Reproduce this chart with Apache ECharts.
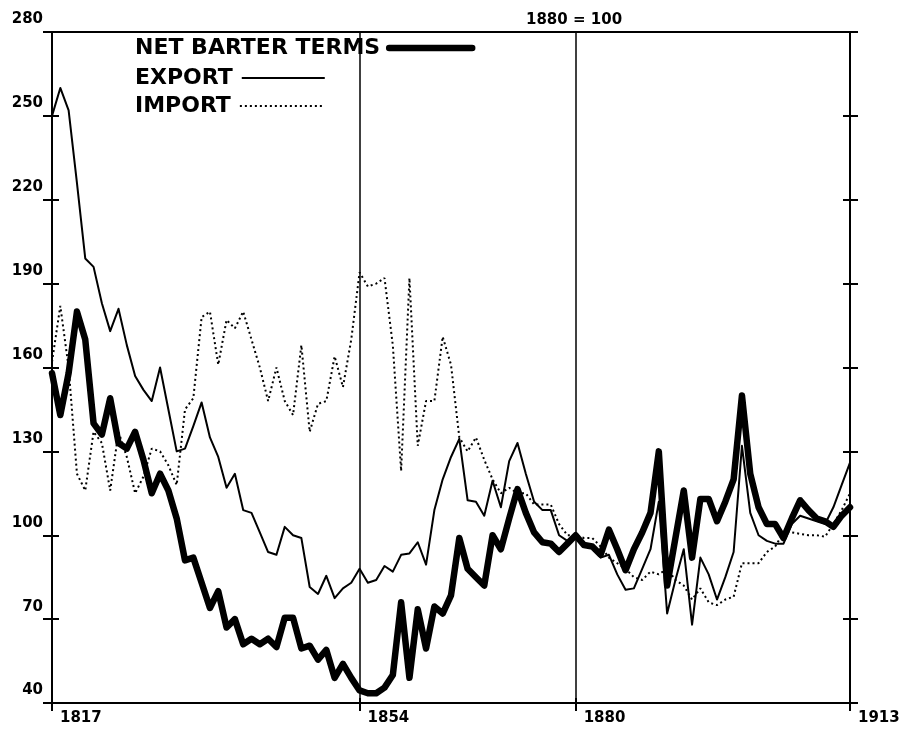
<!DOCTYPE html>
<html>
<head>
<meta charset="utf-8">
<title>Terms of trade, 1817–1913 (1880 = 100)</title>
<script src="https://cdn.jsdelivr.net/npm/echarts@6/dist/echarts.min.js"></script>
<style>
  html, body { margin: 0; padding: 0; background: #fff; }
  #chart { width: 903px; height: 733px; }
</style>
</head>
<body>
<div id="chart"></div>
<script>
// Annual observations, 1817–1913
const years = [
  1817, 1818, 1819, 1820, 1821, 1822, 1823, 1824, 1825, 1826,
  1827, 1828, 1829, 1830, 1831, 1832, 1833, 1834, 1835, 1836,
  1837, 1838, 1839, 1840, 1841, 1842, 1843, 1844, 1845, 1846,
  1847, 1848, 1849, 1850, 1851, 1852, 1853, 1854, 1855, 1856,
  1857, 1858, 1859, 1860, 1861, 1862, 1863, 1864, 1865, 1866,
  1867, 1868, 1869, 1870, 1871, 1872, 1873, 1874, 1875, 1876,
  1877, 1878, 1879, 1880, 1881, 1882, 1883, 1884, 1885, 1886,
  1887, 1888, 1889, 1890, 1891, 1892, 1893, 1894, 1895, 1896,
  1897, 1898, 1899, 1900, 1901, 1902, 1903, 1904, 1905, 1906,
  1907, 1908, 1909, 1910, 1911, 1912, 1913
];

const netBarterTerms = [
  158, 143, 158, 180, 170, 140, 136, 149, 133, 131,
  137, 127, 115, 122, 116, 106, 91, 92, 83, 74,
  80, 67, 70, 61, 63, 61, 63, 60, 70.5, 70.5,
  59.5, 60.5, 55.5, 59, 49, 54, 49, 44.5, 43.5, 43.5,
  45.5, 50, 76, 49, 73.5, 59.5, 74.5, 72, 78.5, 99,
  88, 85, 82, 100, 95, 106, 116.5, 108, 101, 97.5,
  97, 94, 97, 100, 96.5, 96, 93, 102, 95, 87.5,
  95, 101, 108, 130, 82, 99, 116, 92, 113, 113,
  105, 112, 120, 150, 122, 110, 104, 104, 99, 106,
  112.5, 109, 106, 105, 103, 107, 110
];

const exportPrices = [
  250, 260, 252, 226, 199, 196, 183, 173, 181, 168,
  157, 152, 148, 160, 145, 130, 131, 139, 147.5, 135,
  128, 117, 122, 109, 108, 101, 94, 93, 103, 100,
  99, 81.5, 79, 85.5, 77.5, 81, 83, 88, 83, 84,
  89, 87, 93, 93.5, 97.5, 89.5, 109, 120, 128, 134.5,
  112.5, 112, 107, 119.5, 110, 126.5, 133, 122, 112, 109,
  109, 100, 98, 100, 97, 95.5, 92, 93, 86, 80.5,
  81, 88, 95, 112, 72, 84, 95, 68, 92, 86,
  77, 85, 94, 132, 108, 100, 98, 97, 97, 104,
  107, 106, 105, 104, 110, 118, 126
];

const importPrices = [
  162, 182, 160, 122, 116, 137, 133, 116, 137, 128,
  115, 121, 131, 130, 125, 118, 145, 149, 178, 180,
  161, 177, 174, 180, 170, 160, 148, 160, 148, 143,
  168, 137, 147, 148, 164, 153, 170, 194, 189, 190,
  192, 168, 123, 192, 132, 148, 148, 171, 161, 135,
  130, 135, 127, 120, 115, 117, 115, 115, 111, 111,
  111, 104, 100, 100, 99, 99, 96, 92, 90, 88,
  85, 84, 87, 86, 88, 84, 82, 77, 81, 76,
  75, 77, 78, 90, 90, 90, 94, 96, 101, 101,
  100.5, 100, 100, 99.5, 104, 109, 115
];

// Labelled years on the time axis and the vertical rules across the plot
const labelYears = [1817, 1854, 1880, 1913];
const ruleYears = [1854, 1880];
// Index scale ticks
const valueTicks = [40, 70, 100, 130, 160, 190, 220, 250, 280];

const FONT = 'DejaVu Sans';
const INK = '#000';

const isLabelYear = (idx, val) => labelYears.indexOf(Number(val)) !== -1;

const chart = echarts.init(document.getElementById('chart'), null, { renderer: 'canvas' });

const valueAxisBase = {
  type: 'value',
  min: 40,
  max: 280,
  splitLine: { show: false },
  axisLine: { show: false }
};

// One legend block per series: text first, line sample right after it
const legendBlock = (name, top, lineStyle) => ({
  orient: 'horizontal',
  left: 135,
  top: top,
  padding: 0,
  align: 'right',
  itemWidth: 83,
  itemHeight: 12,
  selectedMode: false,
  itemStyle: { opacity: 0 },
  textStyle: { fontFamily: FONT, fontWeight: 'bold', fontSize: 22, color: INK, lineHeight: 22, padding: [0, 4, 0, 0] },
  data: [{ name: name, lineStyle: lineStyle, itemStyle: { opacity: 0 } }]
});

chart.setOption({
  animation: false,
  backgroundColor: '#fff',
  title: {
    text: '1880 = 100',
    left: 521,
    top: 8,
    textStyle: { fontFamily: FONT, fontWeight: 'bold', fontSize: 15, color: INK }
  },
  legend: [
    legendBlock('NET BARTER TERMS', 37, { width: 6.5, color: INK }),
    legendBlock('EXPORT', 67, { width: 2, color: INK }),
    legendBlock('IMPORT', 95, { width: 2, color: INK, type: [2, 3] })
  ],
  grid: {
    left: 52,
    right: 53,
    top: 32,
    bottom: 30,
    show: true,
    borderColor: INK,
    borderWidth: 2,
    backgroundColor: 'transparent'
  },
  xAxis: [
    {
      type: 'category',
      data: years,
      boundaryGap: false,
      axisLine: { lineStyle: { color: INK, width: 2 } },
      axisTick: { show: true, interval: isLabelYear, length: 8, lineStyle: { color: INK, width: 2 } },
      axisLabel: {
        interval: isLabelYear,
        align: 'left',
        padding: [0, 0, 0, 8],
        margin: 8,
        fontFamily: FONT,
        fontWeight: 'bold',
        fontSize: 15,
        color: INK
      },
      splitLine: { show: false }
    },
    {
      type: 'category',
      data: years,
      boundaryGap: false,
      position: 'bottom',
      axisLine: { show: false },
      axisTick: { show: true, interval: isLabelYear, inside: true, length: 5, lineStyle: { color: INK, width: 2 } },
      axisLabel: { show: false },
      splitLine: { show: false }
    }
  ],
  yAxis: [
    Object.assign({}, valueAxisBase, {
      position: 'left',
      axisLine: { show: true, lineStyle: { color: INK, width: 2 } },
      axisTick: { show: true, customValues: valueTicks, length: 9, lineStyle: { color: INK, width: 2 } },
      axisLabel: {
        customValues: valueTicks,
        margin: 9,
        verticalAlign: 'bottom',
        padding: [0, 0, 5, 0],
        fontFamily: FONT,
        fontWeight: 'bold',
        fontSize: 15,
        color: INK
      }
    }),
    Object.assign({}, valueAxisBase, {
      position: 'left',
      axisTick: { show: true, customValues: valueTicks, inside: true, length: 7, lineStyle: { color: INK, width: 2 } },
      axisLabel: { show: false }
    }),
    Object.assign({}, valueAxisBase, {
      position: 'right',
      axisTick: { show: true, customValues: valueTicks, length: 8, lineStyle: { color: INK, width: 2 } },
      axisLabel: { show: false }
    }),
    Object.assign({}, valueAxisBase, {
      position: 'right',
      axisTick: { show: true, customValues: valueTicks, inside: true, length: 7, lineStyle: { color: INK, width: 2 } },
      axisLabel: { show: false }
    })
  ],
  series: [
    {
      name: 'IMPORT',
      type: 'line',
      data: importPrices,
      symbol: 'none',
      lineStyle: { color: INK, width: 2, type: [2, 3] },
      itemStyle: { color: INK },
      markLine: {
        silent: true,
        symbol: ['none', 'none'],
        label: { show: false },
        lineStyle: { color: INK, width: 1.5, type: 'solid' },
        data: ruleYears.map(y => ({ xAxis: String(y) }))
      },
      z: 2
    },
    {
      name: 'EXPORT',
      type: 'line',
      data: exportPrices,
      symbol: 'none',
      lineStyle: { color: INK, width: 2, join: 'round' },
      itemStyle: { color: INK },
      z: 3
    },
    {
      name: 'NET BARTER TERMS',
      type: 'line',
      data: netBarterTerms,
      symbol: 'none',
      lineStyle: { color: INK, width: 6.5, join: 'round', cap: 'round' },
      itemStyle: { color: INK },
      z: 4
    }
  ]
});
</script>
</body>
</html>
